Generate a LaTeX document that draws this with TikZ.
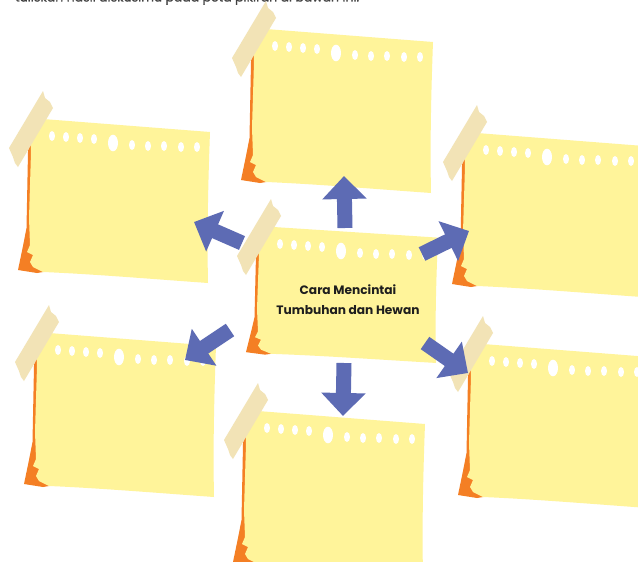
\documentclass[tikz,border=0pt]{standalone}
\usepackage{fontspec}
\setmainfont{Poppins}
\usetikzlibrary{arrows.meta}
\definecolor{paperC}{HTML}{FFF49A}
\definecolor{orangeC}{HTML}{F47F24}
\definecolor{tapeC}{HTML}{F2E3B6}
\definecolor{arrowC}{HTML}{5D6BB4}
\definecolor{textC}{HTML}{1E1E1E}
\tikzset{
  pics/stickynote/.style={code={
    \begin{scope}[shift={(0,-18)}, yscale=#1, shift={(0,18)}]
    \fill[orangeC] (-20,-15) -- (-24,16) -- (-25.5,92) -- (-29,110) -- (-34,134) -- (-15,137) -- (-9,136) -- cycle;
    \fill[paperC] (-22,-18) -- (158,-4) .. controls (156,50) and (155,100) .. (156,147)
       .. controls (100,143) and (40,138) .. (-9,136) -- (-19,131) -- (-22,126) -- (-19,119) -- (-25,116) -- (-22,109)
       -- (-23,82) -- (-21,16) -- cycle;
    \end{scope}
    \foreach \hx/\hy in {0/0,14/1,28/2,42/3,80/9,96/10,112/10,129/11,145/11}
      \fill[white] (\hx,\hy) ellipse [x radius=3pt, y radius=5pt];
    \fill[white] (61,7) ellipse [x radius=5pt, y radius=8.3pt];
    \fill[tapeC] (-9,-45) -- (-7,-38) -- (-2,-34) -- (1,-28) -- (-34,31) -- (-37,27) -- (-39,21) -- (-43,12) -- cycle;
  }},
  pics/stickynote/.default=1,
  blockarrow/.style={draw=arrowC, line width=15pt, -{Triangle[width=43pt,length=23pt]}},
  lbl/.style={font=\fontsize{12.2}{20}\selectfont\bfseries, text=textC, align=center, inner sep=0pt},
  toptext/.style={font=\fontsize{12.5}{15}\selectfont\addfontfeatures{FakeBold=1}, text=black!75, anchor=base west, inner sep=0pt}
}
\begin{document}
\begin{tikzpicture}[x=1pt,y=-1pt]
\useasboundingbox (0,0) rectangle (638,562);
\fill[white] (0,0) rectangle (638,562);
\begin{scope}
\clip (0,0) rectangle (638,562);
\node[toptext] (top) at (15,1.5) {tuliskan hasil diskusimu pada peta pikiran di bawah ini.};
\pic (n1) at (52,136) {stickynote};
\pic (n2) at (275,46) {stickynote};
\pic (n3) at (58,350) {stickynote};
\pic (n4) at (486,150) {stickynote};
\pic (n5) at (267,428) {stickynote};
\pic (n6) at (492,361) {stickynote};
\pic (nc) at (280,244) {stickynote=0.83};
\node[lbl] (title) at (348,300) {Cara Mencintai\\Tumbuhan dan Hewan};
\coordinate (aus) at (345,228);   \coordinate (aut) at (344,176);
\coordinate (auls) at (242,243);  \coordinate (ault) at (194,222);
\coordinate (aurs) at (422,254);  \coordinate (aurt) at (469,231);
\coordinate (ads) at (344,363);   \coordinate (adt) at (343,416);
\coordinate (adls) at (230,330);  \coordinate (adlt) at (185,360);
\coordinate (adrs) at (425,343);  \coordinate (adrt) at (468,373);
\draw[blockarrow] (aus) -- (aut);
\draw[blockarrow] (auls) -- (ault);
\draw[blockarrow] (aurs) -- (aurt);
\draw[blockarrow] (ads) -- (adt);
\draw[blockarrow] (adls) -- (adlt);
\draw[blockarrow] (adrs) -- (adrt);
\end{scope}
\end{tikzpicture}
\end{document}
